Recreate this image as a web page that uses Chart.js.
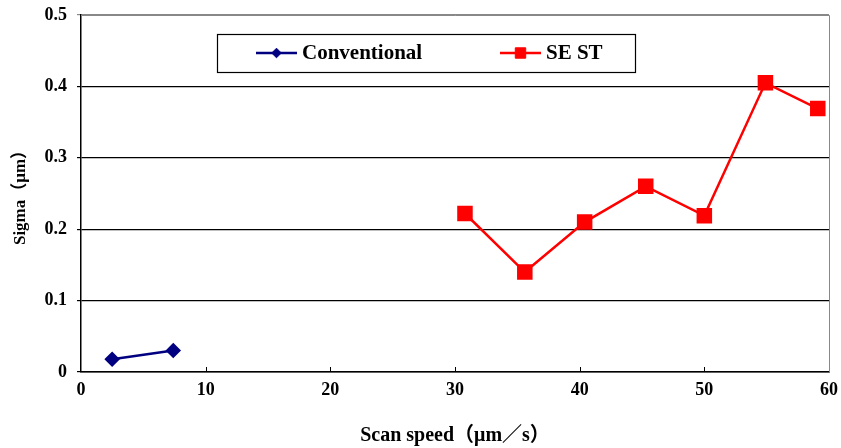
<!DOCTYPE html>
<html>
<head>
<meta charset="utf-8">
<script src="https://cdn.jsdelivr.net/npm/chart.js@4.4.1/dist/chart.umd.min.js"></script>
<style>
  body { margin: 0; background: #fff; }
  #wrap { width: 841px; height: 448px; }
</style>
</head>
<body>
<div id="wrap"><canvas id="chart" width="841" height="448"></canvas></div>
<script>
// data
const convSpeed = [2.5, 7.4];
const convSigma = [0.018, 0.030];
const sestSpeed = [30.8, 35.6, 40.4, 45.3, 50.0, 54.9, 59.1];
const sestSigma = [0.222, 0.140, 0.210, 0.260, 0.219, 0.405, 0.369];
const xTicks = [0, 10, 20, 30, 40, 50, 60];
const yTicks = [0, 0.1, 0.2, 0.3, 0.4, 0.5];

const serif = "'Liberation Serif', 'Times New Roman', 'Noto Sans CJK SC', serif";

function toPoints(xs, ys) {
    return xs.map((x, i) => ({x: x, y: ys[i]}));
}

// legend box, right/top frame and inner x ticks
const framePlugin = {
    id: "frame",
    afterDraw(chart) {
        const ctx = chart.ctx;
        const a = chart.chartArea;
        const xs = chart.scales.x;

        ctx.save();
        ctx.strokeStyle = "#888";
        ctx.lineWidth = 1;
        ctx.beginPath();
        ctx.moveTo(a.left, a.top + 0.5);
        ctx.lineTo(a.right + 0.5, a.top + 0.5);
        ctx.lineTo(a.right + 0.5, a.bottom);
        ctx.stroke();

        // small tick marks pointing up from the bottom axis
        ctx.strokeStyle = "#000";
        xTicks.slice(1, -1).forEach(v => {
            const px = Math.round(xs.getPixelForValue(v)) + 0.5;
            ctx.beginPath();
            ctx.moveTo(px, a.bottom);
            ctx.lineTo(px, a.bottom - 5);
            ctx.stroke();
        });

        // legend
        const bx = 217, by = 34, bw = 418, bh = 38;
        ctx.fillStyle = "#fff";
        ctx.fillRect(bx, by, bw, bh);
        ctx.strokeStyle = "#000";
        ctx.lineWidth = 1.2;
        ctx.strokeRect(bx + 0.5, by + 0.5, bw, bh);

        const ly = by + bh / 2;
        const items = [
            {x: 256, text: "Conventional", ds: chart.data.datasets[0]},
            {x: 500, text: "SE ST", ds: chart.data.datasets[1]}
        ];
        items.forEach(it => {
            ctx.strokeStyle = it.ds.borderColor;
            ctx.lineWidth = 2.5;
            ctx.beginPath();
            ctx.moveTo(it.x, ly);
            ctx.lineTo(it.x + 41, ly);
            ctx.stroke();
            ctx.fillStyle = it.ds.backgroundColor;
            ctx.lineWidth = 1;
            Chart.helpers.drawPoint(ctx, {
                pointStyle: it.ds.pointStyle,
                radius: it.ds.pointRadius * 0.8,
                borderWidth: 1
            }, it.x + 20.5, ly);
            ctx.fillStyle = "#000";
            ctx.font = "bold 21px " + serif;
            ctx.textBaseline = "middle";
            ctx.textAlign = "left";
            ctx.fillText(it.text, it.x + 46, ly + 1);
        });
        ctx.restore();
    }
};

new Chart(document.getElementById("chart"), {
    type: "scatter",
    data: {
        datasets: [
            {
                label: "Conventional",
                data: toPoints(convSpeed, convSigma),
                showLine: true,
                borderColor: "#000080",
                backgroundColor: "#000080",
                borderWidth: 2.5,
                pointStyle: "rectRot",
                pointRadius: 6,
                pointHoverRadius: 6
            },
            {
                label: "SE ST",
                data: toPoints(sestSpeed, sestSigma),
                showLine: true,
                borderColor: "#ff0000",
                backgroundColor: "#ff0000",
                borderWidth: 2.5,
                pointStyle: "rect",
                pointRadius: 9.2,
                pointHoverRadius: 9.2
            }
        ]
    },
    options: {
        responsive: false,
        animation: false,
        layout: {padding: {top: 15, right: 12, left: 0, bottom: 0}},
        plugins: {
            legend: {display: false},
            tooltip: {enabled: false}
        },
        scales: {
            x: {
                type: "linear",
                min: 0,
                max: 60,
                afterBuildTicks: s => { s.ticks = xTicks.map(v => ({value: v})); },
                afterFit: s => {
                    s.height = 76;
                    s.paddingLeft = 0;
                    s.paddingRight = 0;
                },
                grid: {drawOnChartArea: false, drawTicks: false},
                border: {color: "#000", width: 1.5},
                ticks: {
                    color: "#000",
                    padding: 8,
                    font: {family: serif, size: 18, weight: "bold"}
                },
                title: {
                    display: true,
                    text: "Scan speed（μm／s）",
                    color: "#000",
                    padding: {top: 0, bottom: 0},
                    font: {family: serif, size: 20, weight: "bold"}
                }
            },
            y: {
                min: 0,
                max: 0.5,
                afterBuildTicks: s => { s.ticks = yTicks.map(v => ({value: v})); },
                afterFit: s => {
                    s.width = 81;
                    s.paddingTop = 0;
                    s.paddingBottom = 0;
                },
                grid: {
                    color: ctx => ctx.tick && ctx.tick.value === 0.5 ? "#888" : "#000",
                    lineWidth: 1.2,
                    tickLength: 4
                },
                border: {color: "#000", width: 1.5},
                ticks: {
                    color: "#000",
                    padding: 10,
                    font: {family: serif, size: 18, weight: "bold"},
                    callback: v => String(Math.round(v * 10) / 10)
                },
                title: {
                    display: true,
                    text: "Sigma（μm）",
                    color: "#000",
                    padding: {top: 10, bottom: 0},
                    font: {family: serif, size: 17, weight: "bold"}
                }
            }
        }
    },
    plugins: [framePlugin]
});
</script>
</body>
</html>
